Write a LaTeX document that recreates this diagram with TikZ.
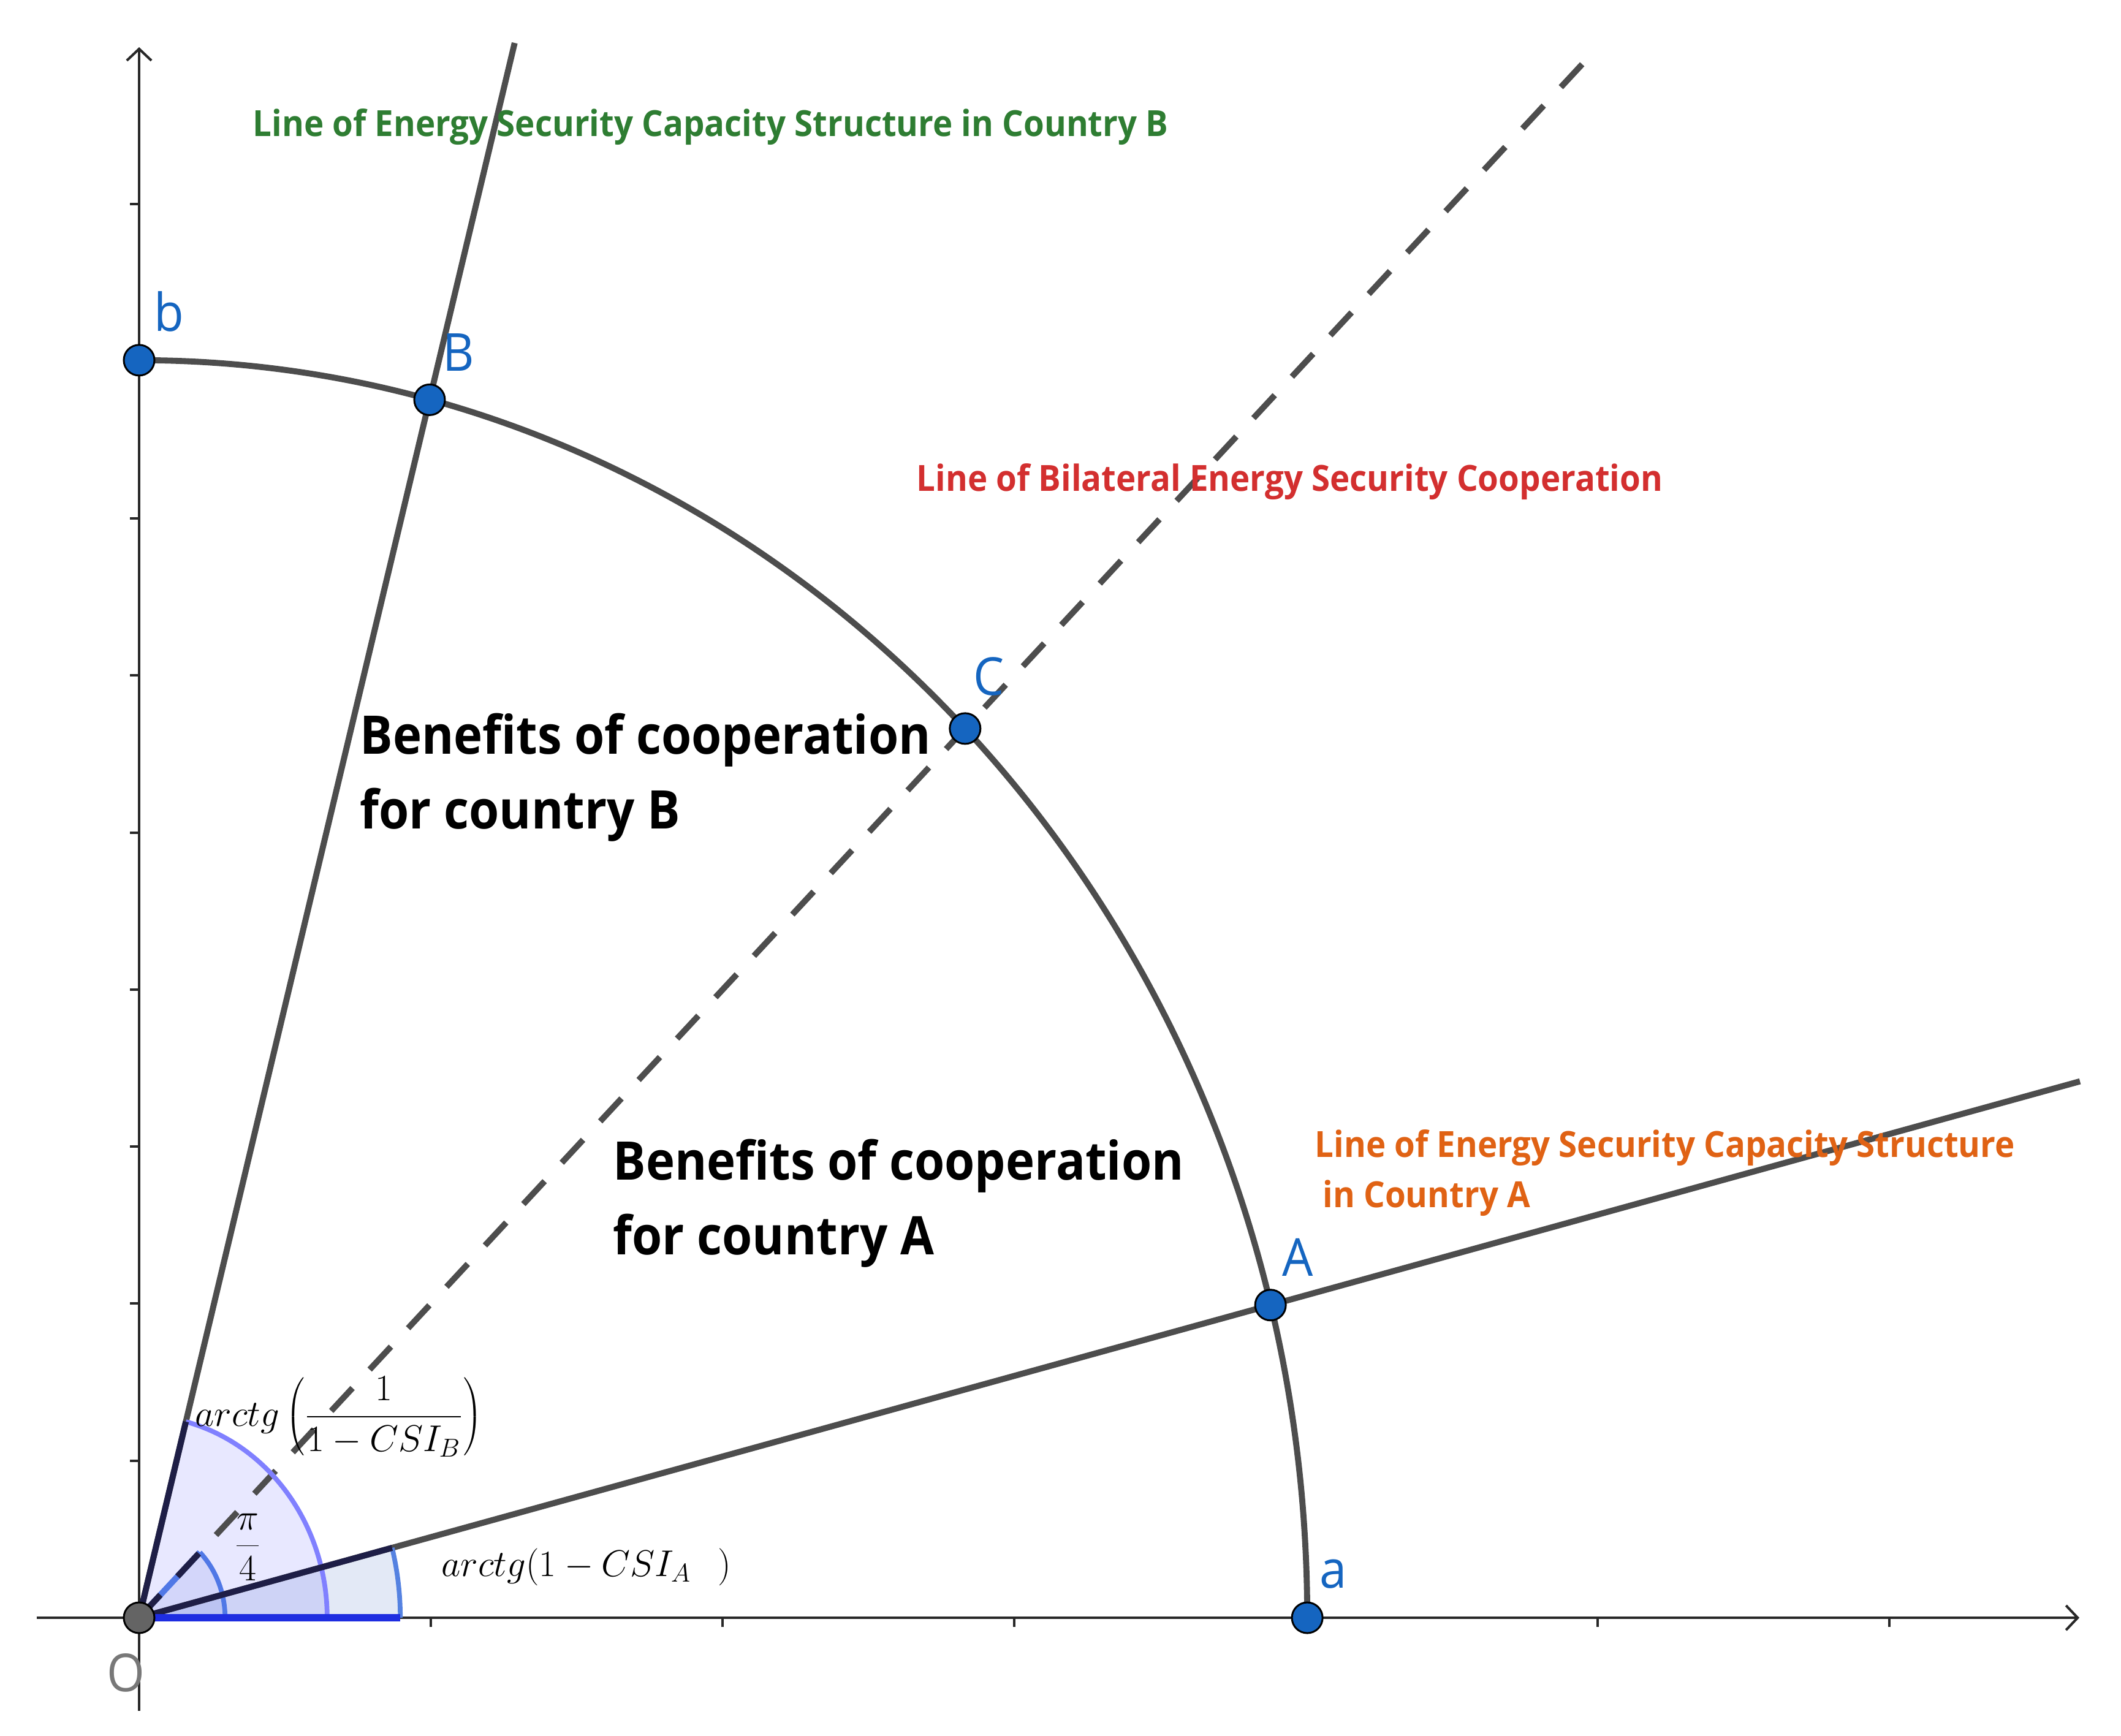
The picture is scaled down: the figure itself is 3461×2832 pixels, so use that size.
\documentclass[tikz,border=0pt]{standalone}
\usepackage[no-math]{fontspec}
\newfontfamily\labfont{Open Sans}
\usetikzlibrary{arrows.meta}
\definecolor{linegray}{RGB}{77,77,77}
\definecolor{axisgray}{RGB}{40,40,40}
\definecolor{ptblue}{RGB}{21,101,192}
\definecolor{dotgray}{RGB}{100,100,100}
\definecolor{labgray}{RGB}{120,120,120}
\definecolor{lgreen}{RGB}{46,125,50}
\definecolor{lred}{RGB}{211,47,47}
\definecolor{lorange}{RGB}{224,98,20}
\definecolor{navy}{RGB}{30,30,70}
\definecolor{bigarc}{RGB}{128,128,255}
\definecolor{piarc}{RGB}{80,120,230}
\definecolor{aarc}{RGB}{85,130,225}
\definecolor{bandblue}{RGB}{30,45,225}
\begin{document}
\begin{tikzpicture}[x=0.01cm,y=-0.01cm,
  axisline/.style={draw=axisgray,line width=1.15pt},
  axisarrow/.style={axisline,-{Straight Barb[length=5.4pt,width=11.4pt]}},
  mainline/.style={draw=linegray,line width=2.8pt},
  dashline/.style={draw=linegray,line width=2.8pt,dash pattern=on 14.5pt off 11.7pt},
  dotpt/.style={circle,draw=black,line width=0.85pt,fill=ptblue,minimum size=0.5cm,inner sep=0pt},
  dotO/.style={dotpt,fill=dotgray},
  ptlabel/.style={text=ptblue,font=\labfont\fontsize{24.3}{29}\selectfont,inner sep=0pt,anchor=base west,xscale=0.93},
  linelabel/.style={font=\labfont\bfseries\fontsize{16.7}{20}\selectfont,inner sep=0pt,anchor=base west,xscale=0.93},
  benefit/.style={font=\labfont\bfseries\fontsize{24.7}{30}\selectfont,inner sep=0pt,anchor=base west,xscale=0.917},
  mathlabel/.style={font=\fontsize{17}{20}\selectfont,inner sep=0pt},
  sectorarc/.style={line width=2.2pt}]
\useasboundingbox (0,0) rectangle (3461,2832);
\fill[white] (0,0) rectangle (3461,2832);

% axes
\coordinate (xs) at (60,2640);
\coordinate (xe) at (3393,2640);
\coordinate (ys) at (227,2792);
\coordinate (ye) at (227,77);
\draw[axisarrow] (xs) -- (xe);
\draw[axisarrow] (ys) -- (ye);
\foreach \k in {1,...,6} \draw[axisline] (227+476*\k,2640) -- ++(0,15);
\foreach \k in {1,...,9} \draw[axisline] (227,2640-256.3*\k) -- ++(-15,0);

\begin{scope}[shift={(227,2640)},x={(19.05cm,0cm)},y={(0cm,20.51cm)}]
  \coordinate (pO) at (0,0);
  \coordinate (pa) at (1,0);
  \coordinate (pb) at (0,1);
  \coordinate (pA) at (14.4:1);
  \coordinate (pB) at (75.6:1);
  \coordinate (pC) at (45:1);
  \coordinate (endA) at (14.4:1.7155);
  \coordinate (endB) at (75.6:1.293);
  \coordinate (endC) at (45:1.75);
  % sector fills
  \fill[fill={rgb,255:red,70;green,110;blue,200},fill opacity=0.15]
    (pO) -- (0.2236,0) arc[start angle=0,end angle=14.4,radius=0.2236] -- cycle;
  \fill[fill=blue,fill opacity=0.09]
    (pO) -- (0.161,0) arc[start angle=0,end angle=75.6,radius=0.161] -- cycle;
  \fill[fill={rgb,255:red,60;green,90;blue,220},fill opacity=0.12]
    (pO) -- (0.0736,0) arc[start angle=0,end angle=45,radius=0.0736] -- cycle;
  % main lines
  \draw[mainline] (pO) -- (endB);
  \draw[mainline] (pO) -- (endA);
  \draw[dashline] (pO) -- (endC);
  \draw[mainline] (pa) arc[start angle=0,end angle=90,radius=1];
  % sector strokes
  \draw[sectorarc,draw=aarc] (0.2236,0) arc[start angle=0,end angle=14.4,radius=0.2236];
  \draw[sectorarc,draw=bigarc] (0.161,0) arc[start angle=0,end angle=75.6,radius=0.161];
  \draw[sectorarc,draw=piarc] (0.0736,0) arc[start angle=0,end angle=45,radius=0.0736];
  \draw[draw=piarc,line width=2.8pt] (pO) -- (45:0.0736);
  \draw[dashline,draw=navy] (pO) -- (45:0.0736);
  \draw[draw=navy,line width=2.8pt] (pO) -- (75.6:0.161);
  \draw[draw=navy,line width=2.8pt] (pO) -- (14.4:0.2236);
  \draw[draw=bandblue,line width=3.3pt] (pO) -- (0.2236,0);
\end{scope}

% points
\node[dotO] (O) at (pO) {};
\node[dotpt] (a) at (pa) {};
\node[dotpt] (b) at (pb) {};
\node[dotpt] (A) at (pA) {};
\node[dotpt] (B) at (pB) {};
\node[dotpt] (C) at (pC) {};

% point labels
\node[ptlabel] (lb) at (251,540) {b};
\node[ptlabel] (lB) at (722,605) {B};
\node[ptlabel] (lC) at (1588,1134) {C};
\node[ptlabel] (lA) at (2092,2082) {A};
\node[ptlabel] (la) at (2153,2591) {a};
\node[ptlabel,text=labgray] (lO) at (174,2760) {O};

% line labels
\node[linelabel,text=lgreen] (tB) at (412,222) {Line of Energy Security Capacity Structure in Country B};
\node[linelabel,text=lred] (tC) at (1495,801) {Line of Bilateral Energy Security Cooperation};
\node[linelabel,text=lorange] (tA1) at (2145,1888) {Line of Energy Security Capacity Structure};
\node[linelabel,text=lorange] (tA2) at (2158,1970) {in Country A};

% benefit texts
\node[benefit] (bB1) at (587,1230) {Benefits of cooperation};
\node[benefit] (bB2) at (587,1352) {for country B};
\node[benefit] (bA1) at (1000,1925) {Benefits of cooperation};
\node[benefit] (bA2) at (1000,2047) {for country A};

% angle labels
\node[mathlabel,anchor=base west] (angB) at (318,2327) {$arctg\left({\displaystyle\frac{1}{1-CSI_B}}\right)$};
\node[mathlabel] (angPi) at (404,2525) {$\displaystyle\frac{\pi}{4}$};
\node[mathlabel,anchor=base west] (angA) at (720,2572) {$arctg(1-CSI_A\;\;\,)$};
\end{tikzpicture}
\end{document}
